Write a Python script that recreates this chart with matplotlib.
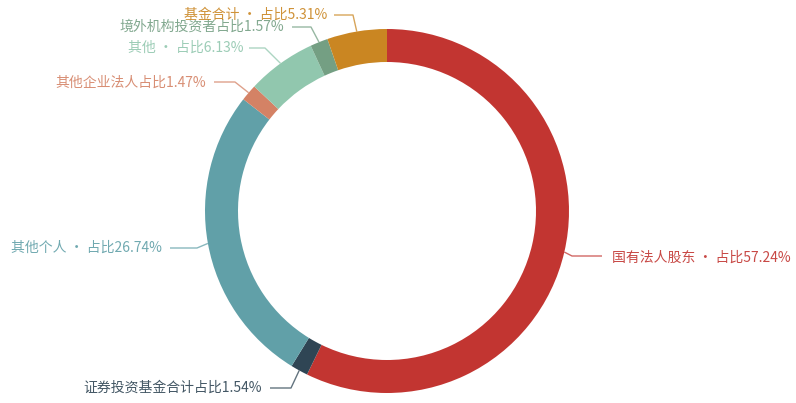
import numpy as np
import matplotlib
matplotlib.use("Agg")
import matplotlib.pyplot as plt

plt.rcParams['font.family'] = ['Noto Sans CJK SC', 'DejaVu Sans']

# Shareholder categories and their shares (%)
categories = ["国有法人股东 · ", "证券投资基金合计", "其他个人 · ", "其他企业法人",
              "其他 · ", "境外机构投资者", "基金合计 · "]
shares = [57.24, 1.54, 26.74, 1.47, 6.13, 1.57, 5.31]
colors = ["#c23531", "#2f4554", "#61a0a8", "#d48265", "#91c7ae", "#749f83", "#ca8622"]

# Label layout in pixel coordinates (y measured from top): elbow, line end, text anchor
elbows = [(572, 256), (291, 388), (197, 248), (235, 82), (265, 48), (311, 27), (353, 15)]
line_ends = [(602, 256), (270, 388), (170, 248), (214, 82), (249, 48), (292, 27), (334, 15)]
text_pos = [(612, 258), (262, 388), (162, 248), (206, 83), (243, 48), (284, 27), (327, 15)]
text_align = ["left", "right", "right", "right", "right", "right", "right"]

W, H = 796, 403
cx, cy = 387, H - 211
R, ring = 182, 33

fig = plt.figure(figsize=(W / 100, H / 100), dpi=100)
ax = fig.add_axes([0, 0, 1, 1])

wedges, _ = ax.pie(shares, colors=colors, startangle=90, counterclock=False,
                   center=(cx, cy), radius=R,
                   wedgeprops=dict(width=ring, linewidth=0))

ax.set_xlim(0, W)
ax.set_ylim(0, H)
ax.axis("off")

for w, name, v, col, el, le, tp, ha in zip(wedges, categories, shares, colors,
                                          elbows, line_ends, text_pos, text_align):
    ang = np.deg2rad((w.theta1 + w.theta2) / 2)
    p0 = (cx + R * np.cos(ang), cy + R * np.sin(ang))
    xs = [p0[0], el[0], le[0]]
    ys = [p0[1], H - el[1], H - le[1]]
    ax.plot(xs, ys, color=col, lw=1.0, alpha=0.75, solid_capstyle="butt")
    ax.text(tp[0], H - tp[1], f"{name}占比{v:.2f}%", color=col, fontsize=10,
            ha=ha, va="center", alpha=0.9)

fig.savefig("out.png", dpi=100)
